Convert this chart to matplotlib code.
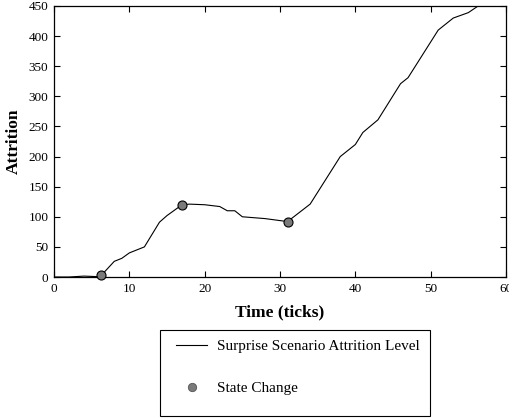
import matplotlib
matplotlib.use("Agg")
import matplotlib.pyplot as plt
from matplotlib.lines import Line2D
from matplotlib.patches import Rectangle

# ======== Data ========

time_ticks = [0, 2, 4, 6, 6.3, 8, 9, 10, 12, 14, 15, 17, 18, 20, 22, 23, 24, 25,
              28, 31, 34, 38, 40, 41, 43, 46, 47, 51, 53, 55, 56.3, 57]
attrition = [0, 0, 1.5, 0.5, 3, 26, 31, 40, 50, 91, 102, 120, 121, 120, 117, 110,
             110, 100, 97, 92, 121, 200, 220, 240, 261, 321, 331, 410, 430, 439,
             450, 458]

state_change_time = [6.3, 17, 31]
state_change_attrition = [3, 120, 92]

x_ticks = [0, 10, 20, 30, 40, 50, 60]
y_ticks = [0, 50, 100, 150, 200, 250, 300, 350, 400, 450]

LINE_LABEL = "Surprise Scenario Attrition Level"
MARKER_LABEL = "State Change"

plt.rcParams["font.family"] = ["Liberation Serif", "DejaVu Serif"]

W, H = 509, 418
fig = plt.figure(figsize=(W / 100, H / 100), dpi=100)
ax = fig.add_axes([54 / W, 1 - 277 / H, 452 / W, 271 / H])

ax.plot(time_ticks, attrition, color="black", linewidth=0.8, zorder=2)
ax.plot(state_change_time, state_change_attrition, linestyle="none", marker="o",
        markersize=6.5, markerfacecolor="#7a7a7a", markeredgecolor="black",
        markeredgewidth=0.8, zorder=3, clip_on=False)

ax.set_xlim(0, 60)
ax.set_ylim(0, 450)
ax.set_xticks(x_ticks)
ax.set_yticks(y_ticks)
ax.tick_params(direction="in", length=4, width=0.8, labelsize=9.5,
               top=True, right=True, pad=4)
for s in ax.spines.values():
    s.set_linewidth(0.9)

ax.set_xlabel("Time (ticks)", fontsize=12.5, fontweight="bold", labelpad=7)
ax.set_ylabel("Attrition", fontsize=12.5, fontweight="bold", labelpad=5)

# Legend box below the axes
fig.patches.append(Rectangle((160 / W, 1 - 416 / H), 270 / W, 86 / H,
                             transform=fig.transFigure, fill=False,
                             edgecolor="black", linewidth=0.8))
handles = [
    Line2D([], [], color="black", linewidth=0.8),
    Line2D([], [], linestyle="none", marker="o", markersize=6,
           markerfacecolor="#7a7a7a", markeredgecolor="#555555",
           markeredgewidth=0.6),
]
fig.legend(handles, [LINE_LABEL, MARKER_LABEL], loc="upper left",
           bbox_to_anchor=(164 / W, 1 - 327 / H), frameon=False,
           fontsize=11, handlelength=2.0, handletextpad=0.7,
           labelspacing=1.85, borderpad=0.3)

fig.savefig("out.png", dpi=100)
